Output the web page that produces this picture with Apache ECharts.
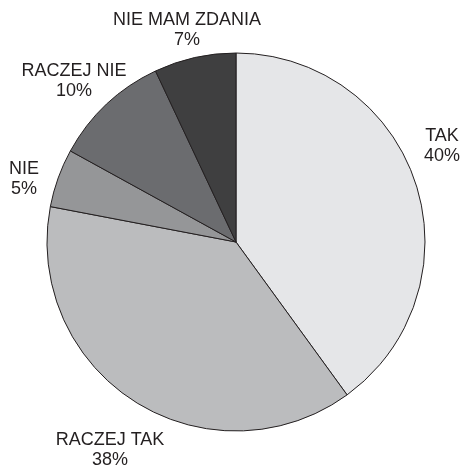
<!DOCTYPE html>
<html>
<head>
<meta charset="utf-8">
<script src="https://cdn.jsdelivr.net/npm/echarts@6/dist/echarts.min.js"></script>
<style>
html, body { margin: 0; padding: 0; background: #fff; }
#chartPie { width: 461px; height: 465px; }
</style>
</head>
<body>
<div id="chartPie"></div>
<script>
// answers, clockwise from 12 o'clock
var categories = ['TAK', 'RACZEJ TAK', 'NIE', 'RACZEJ NIE', 'NIE MAM ZDANIA'];
var percents = [40, 38, 5, 10, 7];
var sliceColors = ['#e5e6e8', '#bbbcbe', '#959698', '#6b6c6f', '#3f3f40'];

// where each label sits (centre of the two-line text)
var labelSpots = [[442, 146], [110, 450], [24, 179], [74, 81], [187, 30]];

var chartPie = echarts.init(document.getElementById('chartPie'), null, { renderer: 'canvas' });

var pieData = categories.map(function (name, i) {
	return { name: name, value: percents[i], itemStyle: { color: sliceColors[i] } };
});

chartPie.setOption({
	animation: false,
	series: [
		{
			type: 'pie',
			center: [236, 242],
			radius: 189,
			startAngle: 90,
			clockwise: true,
			avoidLabelOverlap: false,
			data: pieData,
			itemStyle: {
				borderColor: '#231f20',
				borderWidth: 1
			},
			label: {
				show: true,
				position: 'outside',
				formatter: '{b}\n{c}%',
				fontFamily: 'Liberation Sans, Arial, sans-serif',
				fontSize: 18,
				lineHeight: 20,
				color: '#231f20',
				align: 'center',
				overflow: 'none',
				width: 200
			},
			labelLine: { show: false },
			labelLayout: function (params) {
				var p = labelSpots[params.dataIndex];
				return { x: p[0], y: p[1], align: 'center', verticalAlign: 'middle', hideOverlap: false };
			},
			emphasis: { disabled: true }
		}
	]
});
</script>
</body>
</html>
